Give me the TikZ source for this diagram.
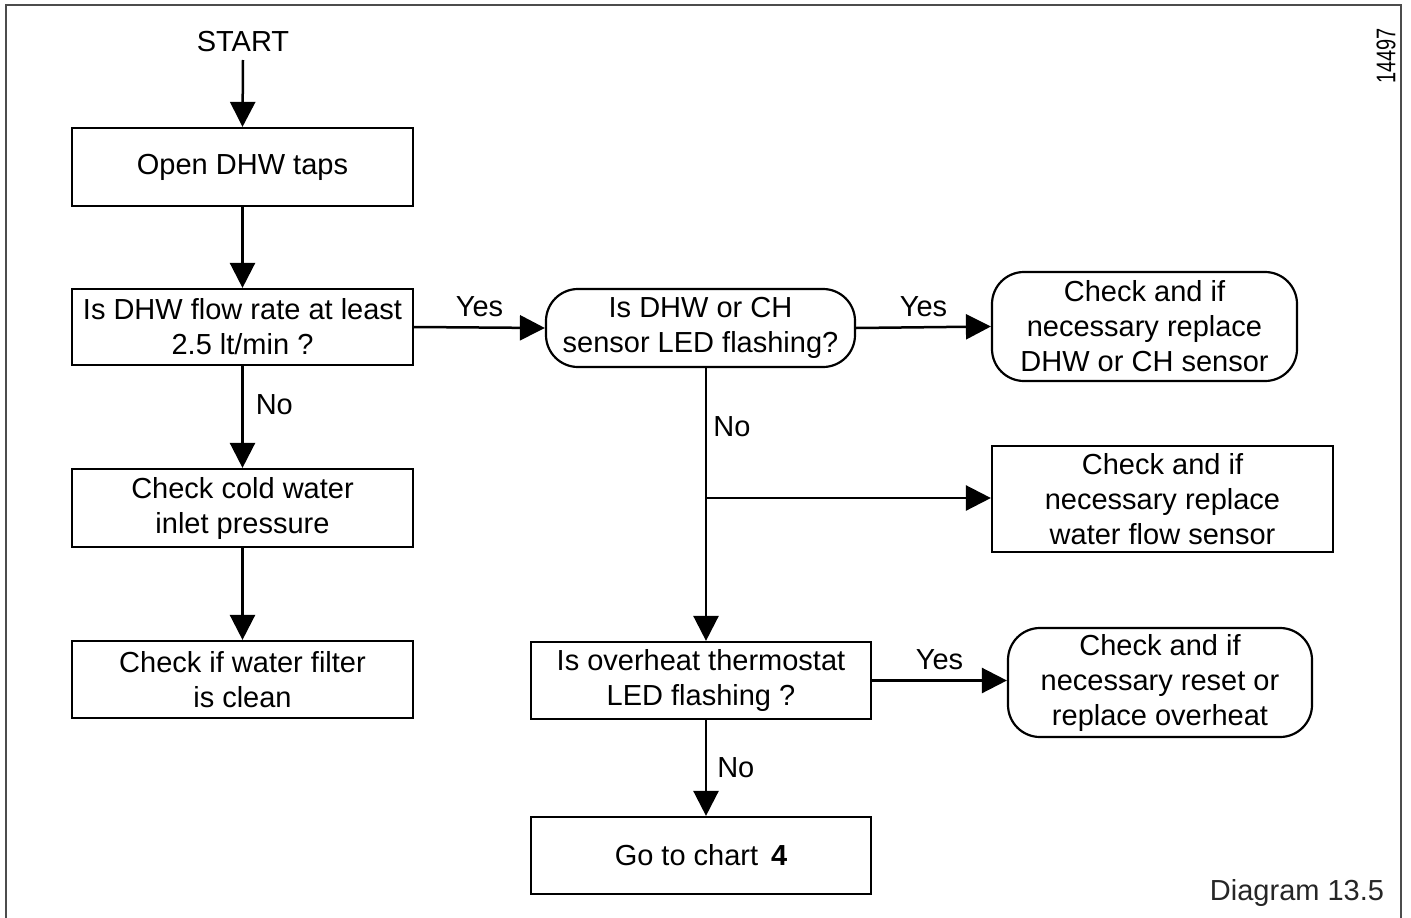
\documentclass[tikz,border=0pt]{standalone}
\usepackage{fontspec}
\setmainfont{Liberation Sans}
\usetikzlibrary{arrows.meta}
\begin{document}
\begin{tikzpicture}[x=1pt,y=-1pt,
  every node/.style={font=\fontsize{29}{35}\selectfont, align=center, inner sep=0pt},
  box/.style={draw, line width=2.2pt, minimum width=#1},
  rbox/.style={draw, line width=2.2pt, rounded corners=32pt, minimum width=#1},
  conn/.style={line width=2.5pt, -{Triangle[length=25pt,width=25pt]}},
  lbl/.style={font=\fontsize{29}{35}\selectfont}]
\useasboundingbox (0,0) rectangle (1411,918);
\draw[line width=2pt, black!70] (6,920) -- (6,5) -- (1401,5) -- (1401,920);

\node[lbl] (start) at (243,42) {START};
\node[box=341pt, minimum height=78pt] (open) at (242.5,167) {Open DHW taps};
\node[box=341pt, minimum height=76pt] (flow) at (242.5,327) {Is DHW flow rate at least\\2.5 lt/min ?};
\node[box=341pt, minimum height=78pt] (cold) at (242.5,508) {Check cold water\\inlet pressure};
\node[box=341pt, minimum height=77pt] (filter) at (242.5,679.5) {Check if water filter\\is clean};
\node[rbox=309pt, minimum height=78pt] (sensor) at (700.5,328) {Is DHW or CH\\sensor LED flashing?};
\node[rbox=305pt, minimum height=109pt] (dhwch) at (1144.5,326.5) {Check and if\\necessary replace\\DHW or CH sensor};
\node[box=341pt, minimum height=106pt] (flowsens) at (1162.5,499) {Check and if\\necessary replace\\water flow sensor};
\node[box=340pt, minimum height=77pt] (overheat) at (701,680.5) {Is overheat thermostat\\LED flashing ?};
\node[rbox=304pt, minimum height=109pt] (reset) at (1160,682.5) {Check and if\\necessary reset or\\replace overheat};
\node[box=340pt, minimum height=77pt] (chart) at (701,855.5) {Go to chart\, \textbf{4}};

\coordinate (branch) at (706,498);

\draw[conn] (start.south |- 0,60) -- (open.north);
\draw[conn] (open) -- (flow);
\draw[conn] (flow) -- (cold) node[pos=0.38, right=12pt, lbl] {No};
\draw[conn] (cold) -- (filter);
\draw[conn] (flow.east) -- (sensor.west) node[midway, above=9pt, lbl] {Yes};
\draw[conn] (sensor.east) -- (dhwch.west) node[midway, above=9pt, lbl] {Yes};
\draw[conn] (sensor.south -| branch) -- (overheat.north -| branch);
\node[lbl] (no2) at (732,427) {No};
\draw[conn] (branch) -- (flowsens.west |- branch);
\draw[conn] (overheat.east) -- (overheat.east -| reset.west) node[midway, above=9pt, lbl] {Yes};
\draw[conn] (overheat.south -| branch) -- (chart.north -| branch) node[midway, right=10pt, lbl] {No};

\node[font=\fontsize{27}{30}\selectfont, rotate=90, xscale=0.74] (num) at (1386,56) {14497};
\node[lbl, text=black!85] (diag) at (1297,893) {Diagram 13.5};
\end{tikzpicture}
\end{document}
